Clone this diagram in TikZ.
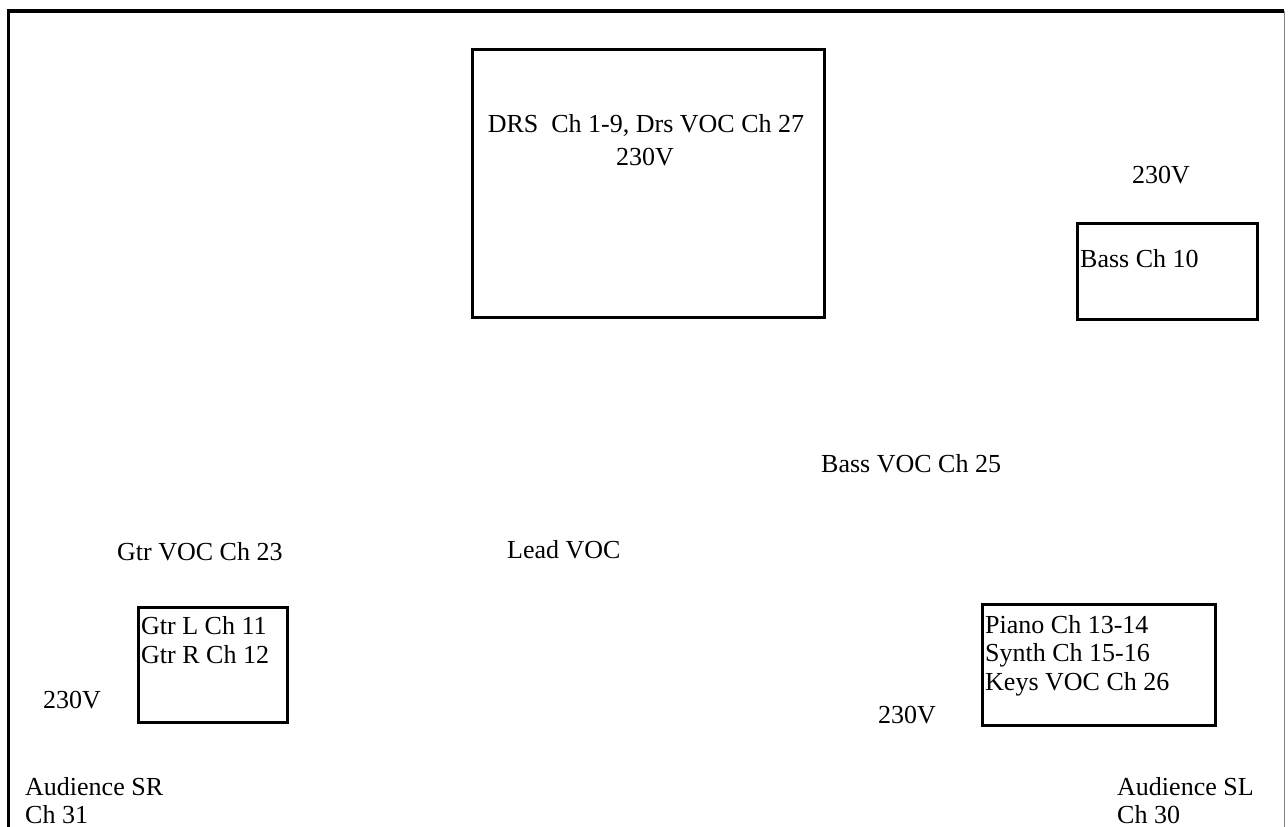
\documentclass[tikz,border=0pt]{standalone}
\usepackage{fontspec}
\setmainfont{Liberation Serif}
\tikzset{
  label text/.style={anchor=base west, inner sep=0pt, font=\fontsize{26}{30}\selectfont},
  amp box/.style={line width=3pt},
}
\begin{document}
\begin{tikzpicture}[x=1pt,y=-1pt]
            \useasboundingbox (0,0) rectangle (1288,827);

            % Buehnenrahmen
            \draw[line width=3.5pt] (8.5,827) -- (8.5,11) -- (1284,11);
            \draw[line width=1pt, color=gray] (1284,11) -- (1284,827);

            % Drums
            \draw[amp box] (472,49) rectangle (824,317);
            \node[label text, anchor=base] (drs) at (646,132) {DRS\ \ Ch 1-9, Drs VOC Ch 27};
            \node[label text, anchor=base] (drspower) at (645,165) {230V};

            % Bass
            \node[label text] (basspower) at (1132,183) {230V};
            \draw[amp box] (1077,223) rectangle (1257,319);
            \node[label text] (bass) at (1080,267) {Bass Ch 10};
            \node[label text] (bassvoc) at (821,472) {Bass VOC Ch 25};

            % Gitarre und Gesang
            \node[label text] (gtrvoc) at (117,560) {Gtr VOC Ch 23};
            \node[label text] (leadvoc) at (507,558) {Lead VOC};
            \draw[amp box] (138,607) rectangle (287,722);
            \node[label text] (gtrl) at (141,634) {Gtr L Ch 11};
            \node[label text] (gtrr) at (141,663) {Gtr R Ch 12};
            \node[label text] (gtrpower) at (43,708) {230V};

            % Keys
            \draw[amp box] (982,604) rectangle (1215,725);
            \node[label text] (piano) at (985,633) {Piano Ch 13-14};
            \node[label text] (synth) at (985,661) {Synth Ch 15-16};
            \node[label text] (keysvoc) at (985,690) {Keys VOC Ch 26};
            \node[label text] (keyspower) at (878,723) {230V};

            % Publikum
            \node[label text] (audsr) at (25,795) {Audience SR};
            \node[label text] (audsrch) at (25,823) {Ch 31};
            \node[label text] (audsl) at (1117,795) {Audience SL};
            \node[label text] (audslch) at (1117,823) {Ch 30};
\end{tikzpicture}
\end{document}
